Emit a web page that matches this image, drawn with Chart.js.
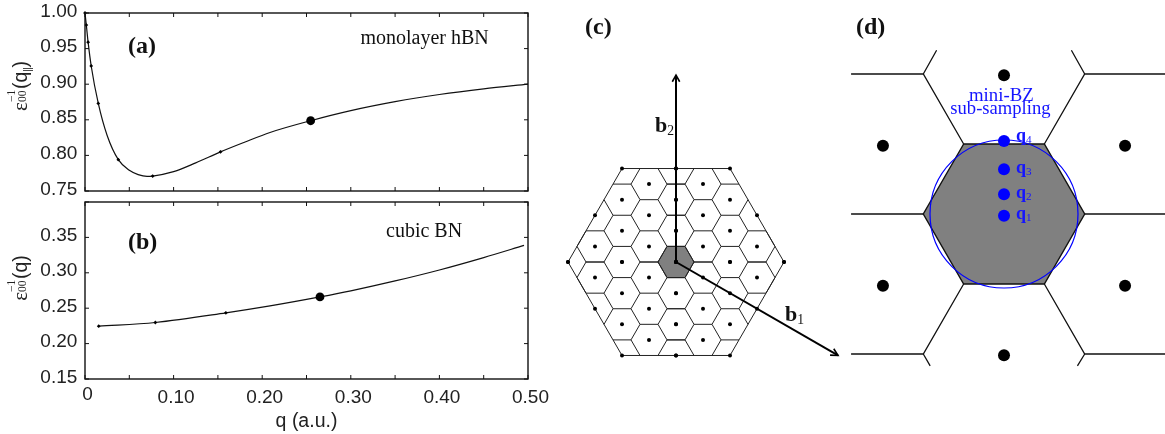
<!DOCTYPE html>
<html><head><meta charset="utf-8">
<script src="https://cdn.jsdelivr.net/npm/chart.js@4/dist/chart.umd.min.js"></script>
<style>
html,body{margin:0;padding:0;background:#fff;width:1165px;height:434px;overflow:hidden}
canvas{position:absolute;left:0;top:0;pointer-events:none}
.t{position:absolute;white-space:nowrap;line-height:1;font-family:"Liberation Serif",serif;color:#111;transform:translateY(-50%)}
.b{font-weight:bold}
.blue{color:#1414ff}
.t sub{font-size:.62em;font-weight:normal;vertical-align:baseline;position:relative;top:.22em}
.yl{position:absolute;white-space:nowrap;line-height:1;font-family:"Liberation Sans",sans-serif;font-size:19.5px;color:#222;transform:translate(-50%,-50%) rotate(-90deg)}
.yl .e{font-family:"Liberation Serif",serif;font-size:21px}
.yl .s{display:inline-block;position:relative;width:13px;height:1em}
.yl .s i{position:absolute;left:0;font-style:normal;font-family:"Liberation Serif",serif;font-size:11.5px}
.yl .s .u{top:-1px}.yl .s .d{top:9.5px}
.yl .p{font-size:10px;position:relative;top:4px;letter-spacing:-.5px}
</style></head><body>
<canvas id="ca" width="1165" height="434"></canvas>
<canvas id="cb" width="1165" height="434"></canvas>
<canvas id="cc" width="1165" height="434"></canvas>
<canvas id="cd" width="1165" height="434"></canvas>
<div class="yl" style="left:18.5px;top:86px"><span class="e">ε</span><span class="s"><i class="u">−1</i><i class="d">00</i></span>(q<span class="p">||</span>)</div>
<div class="yl" style="left:18.5px;top:278px"><span class="e">ε</span><span class="s"><i class="u">−1</i><i class="d">00</i></span>(q)</div>
<div class="t b" style="left:128px;top:45px;font-size:24px">(a)</div>
<div class="t b" style="left:128px;top:241px;font-size:24px">(b)</div>
<div class="t b" style="left:585px;top:26px;font-size:24px">(c)</div>
<div class="t b" style="left:856px;top:26px;font-size:24px">(d)</div>
<div class="t" style="left:360.5px;top:37px;font-size:20px">monolayer hBN</div>
<div class="t" style="left:386px;top:230px;font-size:20px">cubic BN</div>
<div class="t b" style="left:655px;top:125px;font-size:22px">b<sub>2</sub></div>
<div class="t b" style="left:785px;top:314px;font-size:22px">b<sub>1</sub></div>
<div class="t blue" style="left:969px;top:95px;font-size:18.8px">mini-BZ</div>
<div class="t blue" style="left:950.3px;top:108px;font-size:18.6px">sub-sampling</div>
<div class="t b blue" style="left:1016px;top:213px;font-size:18px">q<sub>1</sub></div>
<div class="t b blue" style="left:1016px;top:192px;font-size:18px">q<sub>2</sub></div>
<div class="t b blue" style="left:1016px;top:167px;font-size:18px">q<sub>3</sub></div>
<div class="t b blue" style="left:1016px;top:135px;font-size:18px">q<sub>4</sub></div>
<script>
// ---- panels (a), (b): data
const xTickValues = [0,0.05,0.10,0.15,0.20,0.25,0.30,0.35,0.40,0.45,0.50];
const xTickLabelsB = ['0','',[' ','0.10'],'',[' ','0.20'],'',[' ','0.30'],'',[' ','0.40'],'',[' ','0.50']];
const yTicksA = [0.75,0.80,0.85,0.90,0.95,1.00];
const yTickLabelsA = ['0.75','0.80','0.85','0.90','0.95','1.00'];
const yTicksB = [0.15,0.20,0.25,0.30,0.35,0.40];
const yTickLabelsB = ['0.15','0.20','0.25','0.30','0.35',''];

const curveQA = [0,0.0015,0.0035,0.007,0.015,0.025,0.0376,0.05,0.06,0.07,0.0764,0.10,0.125,0.153,0.18,0.2088,0.2547,0.30,0.35,0.40,0.45,0.50];
const curveEA = [1.00,0.983,0.959,0.9256,0.873,0.828,0.794,0.779,0.773,0.7705,0.771,0.7772,0.7895,0.805,0.8185,0.8322,0.8487,0.8628,0.8754,0.8855,0.8935,0.90];
const markQA = [0,0.0015,0.0035,0.007,0.015,0.0376,0.0764,0.153];
const markEA = [1.00,0.983,0.959,0.9256,0.873,0.794,0.771,0.805];
const bigQA = [0.2547], bigEA = [0.8487];

const curveQB = [0.0155,0.0794,0.159,0.2088,0.2652,0.30,0.35,0.40,0.45,0.4955];
const curveEB = [0.2246,0.2298,0.2434,0.2532,0.2659,0.2745,0.2885,0.304,0.3215,0.3387];
const markQB = [0.0155,0.0794,0.159];
const markEB = [0.2246,0.2298,0.2434];
const bigQB = [0.2652], bigEB = [0.2659];

// ---- panel (c): lattice in cell units
const latticeC = [[0,0],[0,2],[0,4],[0,6],[3,1],[3,3],[3,5],[6,0],[6,2],[6,4],[6,6],[9,1],[9,3],[12,0]];
const outlineC = [[-6,6],[6,6],[12,0],[6,-6],[-6,-6],[-12,0],[-6,6]];
const centreCellC = [[-1,1],[1,1],[2,0],[1,-1],[-1,-1],[-2,0],[-1,1]];
const edgesC = [
 [2,0,4,0],[8,0,10,0],[-1,1,1,1],[5,1,7,1],[2,2,4,2],[8,2,10,2],[-1,3,1,3],[5,3,7,3],[2,4,4,4],[-1,5,1,5],[5,5,7,5],
 [2,0,1,1],[4,0,5,1],[8,0,7,1],[10,0,11,1],
 [1,1,2,2],[5,1,4,2],[7,1,8,2],[11,1,10,2],
 [2,2,1,3],[4,2,5,3],[8,2,7,3],
 [1,3,2,4],[5,3,4,4],[7,3,8,4],
 [2,4,1,5],[4,4,5,5],
 [1,5,2,6],[5,5,4,6]];
const b1Shaft = [[0,0],[18,-6]], b2Shaft = [[0,0],[0,12]];
const b1Head = [[17.12,-5.98],[18,-6],[17.53,-5.57]];
const b2Head = [[-0.41,11.57],[0,12],[0.41,11.57]];

// ---- panel (d)
const dotsD = [[0,1.981],[0,-2.019],[-3,0.976],[3,0.976],[-3,-1.024],[3,-1.024]];
const qPointsD = [[0,-0.024],[0,0.281],[0,0.639],[0,1.043]];
const cellD = [[-1,1],[1,1],[2,0],[1,-1],[-1,-1],[-2,0],[-1,1]];
const circleD = [[0,0]];
const linesD = [
 [[-3.79,2],[-2,2],[-1,1]],[[1,1],[2,2],[3.99,2]],
 [[-2,2],[-1.67,2.34]],[[2,2],[1.67,2.34]],
 [[-3.79,0],[-2,0]],[[2,0],[3.99,0]],
 [[-1,-1],[-2,-2],[-3.79,-2]],[[1,-1],[2,-2],[3.99,-2]],
 [[-2,-2],[-1.83,-2.17]],[[2,-2],[1.82,-2.17]]];

const zip = (a,b)=>a.map((v,i)=>({x:v,y:b[i]}));
const pts = a=>a.map(p=>({x:p[0],y:p[1]}));
const signs = [[1,1],[-1,1],[1,-1],[-1,-1]];
const latticeAll = [];
latticeC.forEach(([x,y])=>signs.forEach(([s,t])=>latticeAll.push({x:s*x,y:t*y})));
const edgePts = [];
edgesC.forEach(([a,b,c,d])=>signs.forEach(([s,t])=>{edgePts.push({x:s*a,y:t*b},{x:s*c,y:t*d},{x:null,y:null});}));
const linePts = [];
linesD.forEach(l=>{l.forEach(p=>linePts.push({x:p[0],y:p[1]}));linePts.push({x:null,y:null});});

const INK='#111';
const frame = {id:'frame',afterDatasetsDraw(ch){
  const {ctx,chartArea:A,scales:{x,y}}=ch;ctx.save();ctx.strokeStyle=INK;
  ctx.lineWidth=1;ctx.beginPath();
  x.ticks.forEach(t=>{const p=x.getPixelForValue(t.value);ctx.moveTo(p,A.bottom);ctx.lineTo(p,A.bottom-4);ctx.moveTo(p,A.top);ctx.lineTo(p,A.top+4);});
  y.ticks.forEach(t=>{const p=y.getPixelForValue(t.value);ctx.moveTo(A.left,p);ctx.lineTo(A.left+4,p);ctx.moveTo(A.right,p);ctx.lineTo(A.right-4,p);});
  ctx.stroke();ctx.lineWidth=1.4;ctx.strokeRect(A.left,A.top,A.right-A.left,A.bottom-A.top);ctx.restore();
}};
const noPad = s=>{s.paddingLeft=s.paddingRight=s.paddingTop=s.paddingBottom=0;};
const base = {responsive:false,animation:false,events:[],devicePixelRatio:1,plugins:{legend:{display:false},tooltip:{enabled:false},title:{display:false}}};
const tickFont = {family:'"Liberation Sans",sans-serif',size:19};

function plot(id,o){
  return new Chart(document.getElementById(id),{type:'scatter',plugins:[frame],
   data:{datasets:[
    {data:zip(o.bq,o.be),pointRadius:4.4,pointBackgroundColor:'#000',pointBorderWidth:0,showLine:false,clip:false},
    {data:zip(o.mq,o.me),pointRadius:1.9,pointStyle:'rectRot',pointBackgroundColor:'#000',pointBorderWidth:0,showLine:false,clip:false},
    {data:zip(o.cq,o.ce),showLine:true,cubicInterpolationMode:'monotone',borderColor:'#111',borderWidth:1.2,pointRadius:0,clip:false}
   ]},
   options:{...base,layout:{autoPadding:false,padding:o.pad},scales:{
    x:{type:'linear',min:0,max:0.5,grid:{display:false,drawTicks:false,tickLength:0},border:{display:false},
       afterBuildTicks:s=>{s.ticks=xTickValues.map(v=>({value:v}));},
       afterFit:s=>{s.height=o.xh;noPad(s);},
       title:o.xt||{display:false},
       ticks:{display:!!o.xl,autoSkip:false,maxRotation:0,minRotation:0,padding:13.7,labelOffset:2.5,color:'#222',font:{...tickFont,lineHeight:'3.3px'},
              callback:(v,i)=>o.xl?o.xl[i]:''}},
    y:{type:'linear',min:o.y0,max:o.y1,grid:{display:false,drawTicks:false,tickLength:0},border:{display:false},
       afterBuildTicks:s=>{s.ticks=o.yt.map(v=>({value:v}));},
       afterFit:s=>{s.width=60;noPad(s);},
       ticks:{autoSkip:false,padding:7.7,labelOffset:-1.6,color:'#222',font:tickFont,callback:(v,i)=>o.yl[i]}}
   }}});
}
plot('ca',{cq:curveQA,ce:curveEA,mq:markQA,me:markEA,bq:bigQA,be:bigEA,y0:0.75,y1:1.0,yt:yTicksA,yl:yTickLabelsA,xh:20,
  pad:{left:25,right:637,top:13,bottom:223}});
plot('cb',{cq:curveQB,ce:curveEB,mq:markQB,me:markEB,bq:bigQB,be:bigEB,y0:0.15,y1:0.40,yt:yTicksB,yl:yTickLabelsB,xh:54,xl:xTickLabelsB,
  xt:{display:true,text:'q (a.u.)',color:'#222',font:{family:'"Liberation Sans",sans-serif',size:19.5},padding:0},
  pad:{left:25,right:637,top:202,bottom:1}});

const hidden = (a,b)=>({type:'linear',display:false,min:a,max:b});
new Chart(document.getElementById('cc'),{type:'scatter',data:{datasets:[
  {data:latticeAll,pointRadius:2,pointBackgroundColor:'#000',pointBorderWidth:0,showLine:false,clip:false},
  {data:pts(b1Shaft),showLine:true,borderColor:'#000',borderWidth:2,pointRadius:0,clip:false},
  {data:pts(b2Shaft),showLine:true,borderColor:'#000',borderWidth:2,pointRadius:0,clip:false},
  {data:pts(b1Head),showLine:true,borderColor:'#000',borderWidth:1.6,pointRadius:0,clip:false},
  {data:pts(b2Head),showLine:true,borderColor:'#000',borderWidth:1.6,pointRadius:0,clip:false},
  {data:pts(outlineC),showLine:true,borderColor:'#222',borderWidth:1,pointRadius:0,clip:false},
  {data:edgePts,showLine:true,borderColor:'#222',borderWidth:1,pointRadius:0,clip:false},
  {data:pts(centreCellC),showLine:true,fill:'shape',backgroundColor:'#808080',borderColor:'#222',borderWidth:1,pointRadius:0,clip:false}
 ]},options:{...base,layout:{autoPadding:false,padding:{left:550,right:309,top:43.88,bottom:47.36}},scales:{x:hidden(-14,20),y:hidden(-8,14)}}});

new Chart(document.getElementById('cd'),{type:'scatter',data:{datasets:[
  {data:pts(qPointsD),pointRadius:6,pointBackgroundColor:'#0000ff',pointBorderWidth:0,showLine:false,clip:false},
  {data:pts(circleD),pointRadius:74,pointBackgroundColor:'rgba(0,0,0,0)',pointBorderColor:'#0000ff',pointBorderWidth:1.2,showLine:false,clip:false},
  {data:pts(dotsD),pointRadius:6,pointBackgroundColor:'#000',pointBorderWidth:0,showLine:false,clip:false},
  {data:linePts,showLine:true,borderColor:'#111',borderWidth:1.3,pointRadius:0,clip:false},
  {data:pts(cellD),showLine:true,fill:'shape',backgroundColor:'#808080',borderColor:'#111',borderWidth:1.4,pointRadius:0,clip:false}
 ]},options:{...base,layout:{autoPadding:false,padding:{left:842.6,right:0,top:4,bottom:10}},scales:{x:hidden(-4,3.99),y:hidden(-3,3)}}});
</script>
</body></html>
